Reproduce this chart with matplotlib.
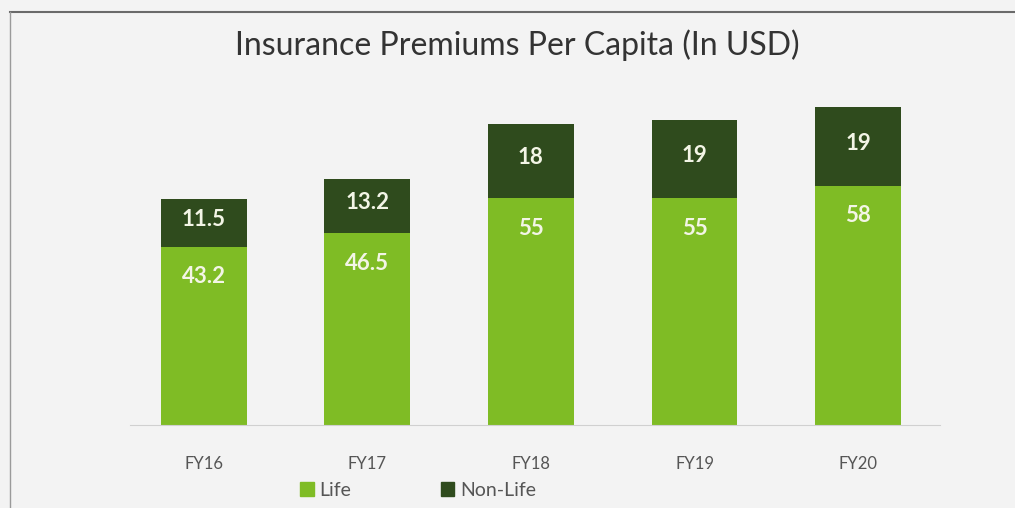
import matplotlib.pyplot as plt
from matplotlib.patches import Patch
import numpy as np

# data
years = ["FY16", "FY17", "FY18", "FY19", "FY20"]
life = [43.2, 46.5, 55, 55, 58]
non_life = [11.5, 13.2, 18, 19, 19]
life_labels = ["43.2", "46.5", "55", "55", "58"]
non_life_labels = ["11.5", "13.2", "18", "19", "19"]

LIFE_C = "#7fbc25"
NONLIFE_C = "#2f4b1d"
TXT = "#f3f5e6"

plt.rcParams['font.family'] = ['Lato', 'DejaVu Sans']

fig = plt.figure(figsize=(10.15, 5.08), dpi=100)
fig.patch.set_facecolor("#f3f3f3")

# frame lines of the screenshot
fig.add_artist(plt.Line2D([10 / 1015, 1], [1 - 12 / 508] * 2, color="#6a6a6a", lw=1.5))
fig.add_artist(plt.Line2D([10 / 1015] * 2, [0, 1 - 12 / 508], color="#9a9a9a", lw=1.0))

ax = fig.add_axes([130 / 1015, 83 / 508, 810 / 1015, 330 / 508])
ax.set_facecolor("none")

x = np.arange(len(years))
w = 0.525
ax.bar(x, life, w, color=LIFE_C, zorder=2)
ax.bar(x, non_life, w, bottom=life, color=NONLIFE_C, zorder=2)

for i in range(len(years)):
    ax.text(x[i], life[i] - 7.3, life_labels[i], ha="center", va="center",
            color=TXT, fontsize=16, fontweight="bold")
    ax.text(x[i], life[i] + non_life[i] / 2 + 0.8, non_life_labels[i], ha="center",
            va="center", color=TXT, fontsize=16, fontweight="bold")

ax.set_xlim(-0.45, 4.5)
ax.set_ylim(0, 80)
ax.set_xticks(x)
ax.set_xticklabels(years, fontsize=12, color="#555555")
ax.tick_params(axis="x", length=0, pad=22)
ax.set_yticks([])
for s in ["top", "right", "left"]:
    ax.spines[s].set_visible(False)
ax.spines["bottom"].set_color("#d0d0d0")

fig.text(517 / 1015, 1 - 45 / 508, "Insurance Premiums Per Capita (In USD)",
         ha="center", va="center", fontsize=23, color="#333333")

handles = [Patch(color=LIFE_C, label="Life"), Patch(color=NONLIFE_C, label="Non-Life")]
fig.legend(handles=handles, loc="center", bbox_to_anchor=(418 / 1015, 1 - 490 / 508),
           ncol=2, frameon=False, fontsize=14, handlelength=0.7, handleheight=0.7,
           handletextpad=0.3, columnspacing=4.6, labelcolor="#555555")

plt.savefig("out.png", dpi=100, facecolor=fig.get_facecolor())
